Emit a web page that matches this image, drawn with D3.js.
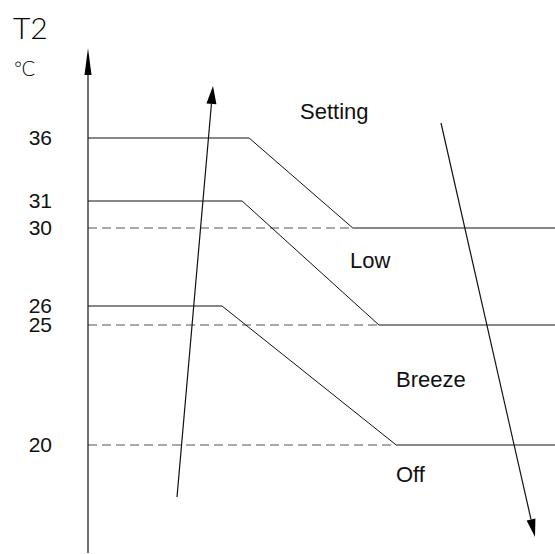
<!DOCTYPE html>
<html>
<meta charset="utf-8">
<head>
<title>T2 fan speed thresholds</title>
<style>
body { margin: 0; background: #fff; }
.lbl { font-family: "Liberation Sans", Arial, sans-serif; font-size: 22px; fill: #111; }
.tk { font-size: 21px; }
.thin { font-family: Lato, Roboto, "DejaVu Sans", sans-serif; font-weight: 300; fill: #000; }
.solid { fill: none; stroke: #111; stroke-width: 1px; }
.dash { fill: none; stroke: #555; stroke-width: 1.2px; stroke-dasharray: 9 5; }
</style>
</head>
<body>
<script src="https://d3js.org/d3.v7.min.js"></script>
<script>

// temperature ticks on the T2 axis (schematic spacing, not to scale)
var ticks = [36, 31, 30, 26, 25, 20];

// each switch-off curve: starts at upper temp, runs flat, then slopes down to lower temp
var upperTemp = [36, 31, 26];
var lowerTemp = [30, 25, 20];
var flatEnd   = [34.5, 33, 28.7];   // x units where the curve starts dropping
var slopeEnd  = [56.7, 62.3, 66];   // x units where it reaches the lower temp

// zone names
var zones = ["Setting", "Low", "Breeze", "Off"];

var width = 555, height = 554;

var svg = d3.select("body").append("svg")
    .attr("width", width)
    .attr("height", height);

// x runs 0..100 from the axis to the right edge
var x = d3.scaleLinear().domain([0, 100]).range([88, 555]);

// piecewise scale, the drawing is schematic
var y = d3.scaleLinear()
    .domain([20, 25, 26, 30, 31, 36])
    .range([445, 325, 306, 228, 201, 138]);

// dashed lower thresholds, from axis to where the solid curve lands
lowerTemp.forEach(function(t, i) {
  svg.append("line")
    .attr("class", "dash")
    .attr("x1", x(0)).attr("x2", x(slopeEnd[i]))
    .attr("y1", y(t)).attr("y2", y(t));
});

var line = d3.line()
    .x(function(d) { return x(d[0]); })
    .y(function(d) { return y(d[1]); });

upperTemp.forEach(function(t, i) {
  var pts = [[0, t], [flatEnd[i], t], [slopeEnd[i], lowerTemp[i]], [100, lowerTemp[i]]];
  svg.append("path")
    .attr("class", "solid")
    .attr("d", line(pts));
});

// tick labels
svg.selectAll(".tick")
  .data(ticks).enter()
  .append("text")
    .attr("class", "lbl tk")
    .attr("x", 52)
    .attr("y", function(d) { return y(d) + 7; })
    .style("text-anchor", "end")
    .text(function(d) { return d; });

// arrow helper: line with filled head at the tip
function arrow(x0, y0, x1, y1, len, half) {
  var dx = x1 - x0, dy = y1 - y0, L = Math.sqrt(dx*dx + dy*dy);
  var ux = dx / L, uy = dy / L;
  var bx = x1 - ux * len, by = y1 - uy * len;
  svg.append("line")
    .attr("x1", x0).attr("y1", y0).attr("x2", bx).attr("y2", by)
    .style("stroke", "#111").style("stroke-width", 1.2);
  svg.append("path")
    .attr("d", "M" + x1 + "," + y1 +
               "L" + (bx - uy*half) + "," + (by + ux*half) +
               "L" + (bx + uy*half) + "," + (by - ux*half) + "Z")
    .style("fill", "#000");
}

// the T2 axis
arrow(88, 553, 88, 48, 27, 3.5);
// rising / falling temperature arrows
arrow(177, 497, 213, 86, 18, 5);
arrow(441, 123, 535, 537, 18, 4.5);

// zone labels
var zonePos = [[300, 119], [350, 268], [396, 387], [396, 482]];
svg.selectAll(".zone")
  .data(zones).enter()
  .append("text")
    .attr("class", "lbl")
    .attr("x", function(d, i) { return zonePos[i][0]; })
    .attr("y", function(d, i) { return zonePos[i][1]; })
    .text(function(d) { return d; });

// axis title
svg.append("text")
  .attr("class", "thin")
  .attr("x", 13).attr("y", 39)
  .style("font-size", "30px")
  .text("T2");
svg.append("text")
  .attr("class", "thin")
  .attr("x", 13).attr("y", 76)
  .style("font-size", "20px")
  .text("℃");

</script>
</body>
</html>
